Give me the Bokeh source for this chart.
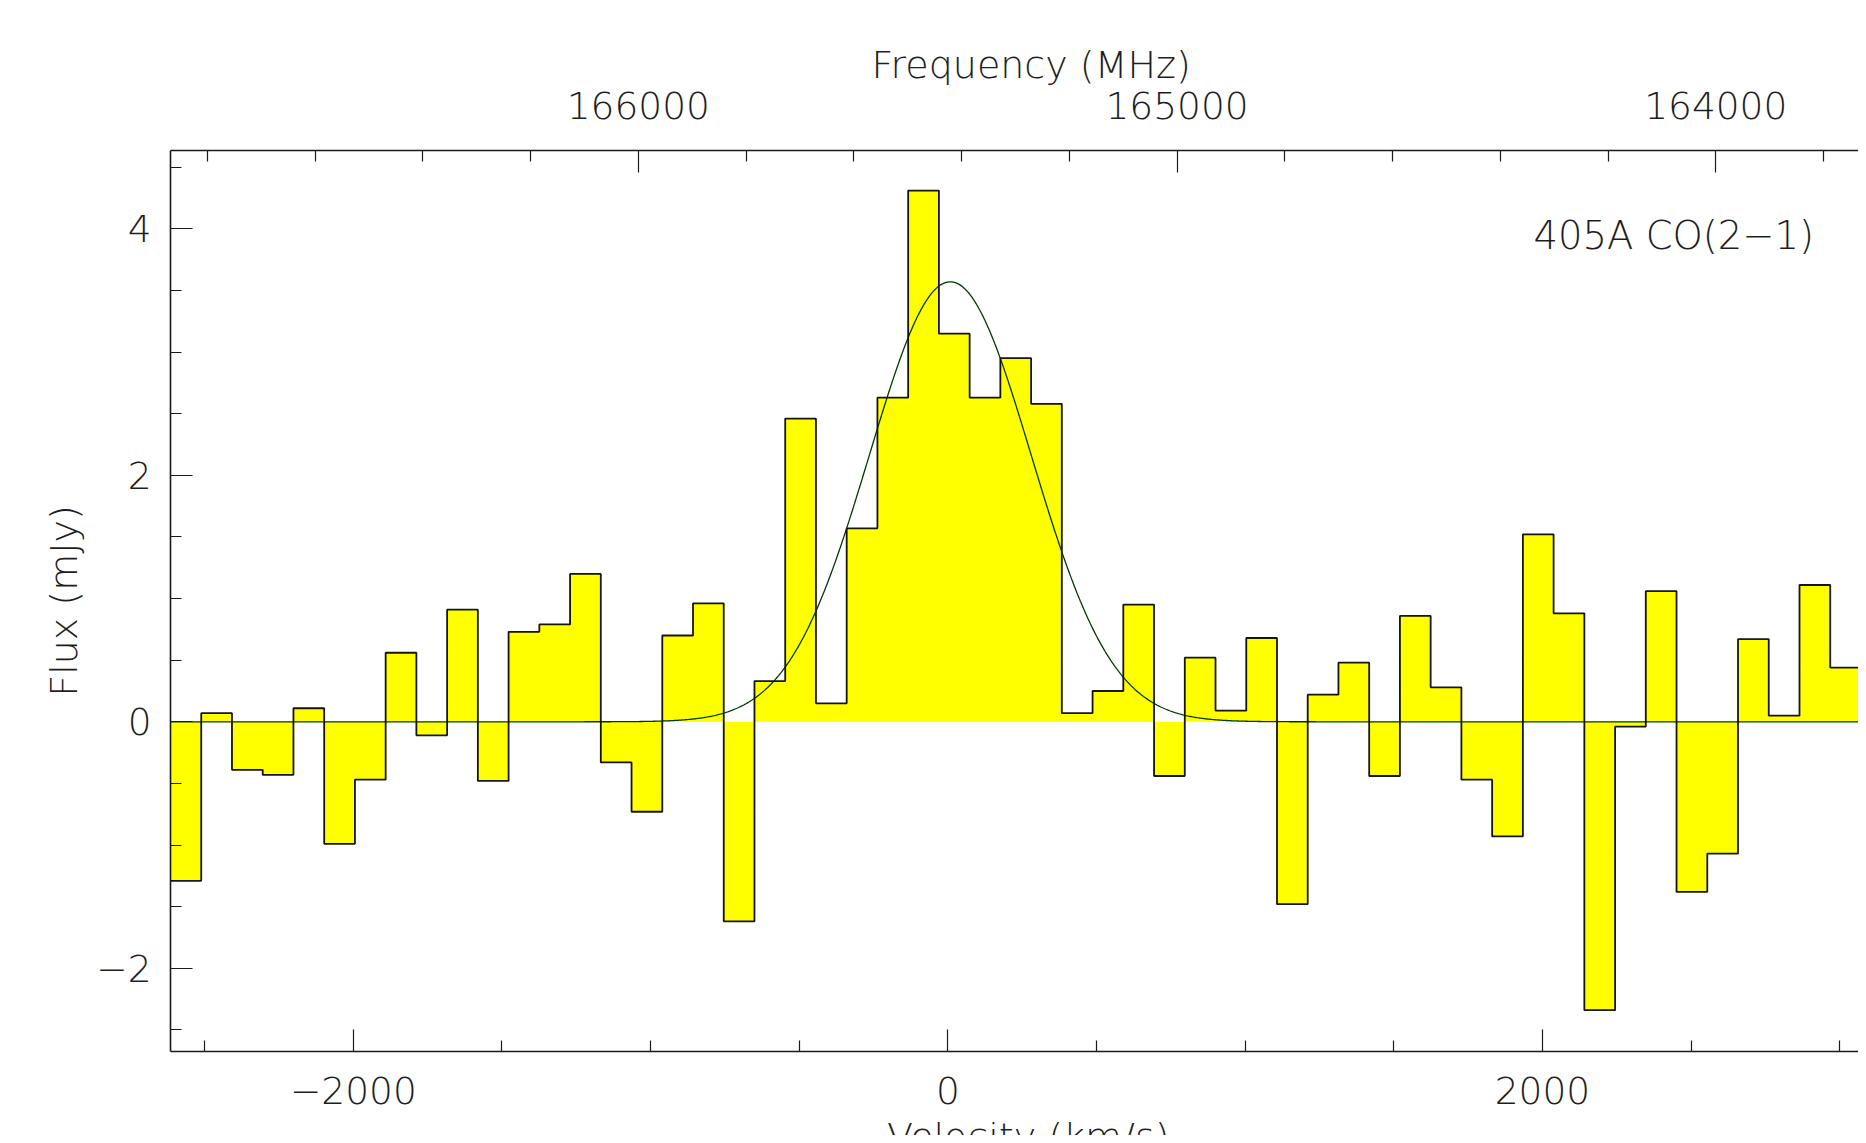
import subprocess
import numpy as np
from bokeh.plotting import figure
from bokeh.models import Range1d, LinearAxis, FixedTicker, Label
from bokeh.embed import file_html
from bokeh.resources import INLINE

# ---------------- data ----------------
# velocity channel centres (km/s)
velocity = [-2563.4, -2460.0, -2356.6, -2253.2, -2149.8, -2046.4, -1943.0, -1839.7,
            -1736.3, -1632.9, -1529.5, -1426.1, -1322.7, -1219.3, -1115.9, -1012.5,
            -909.1, -805.8, -702.4, -599.0, -495.6, -392.2, -288.8, -185.4,
            -82.0, 21.4, 124.8, 228.1, 331.5, 434.9, 538.3, 641.7,
            745.1, 848.5, 951.9, 1055.3, 1158.7, 1262.0, 1365.4, 1468.8,
            1572.2, 1675.6, 1779.0, 1882.4, 1985.8, 2089.2, 2192.6, 2295.9,
            2399.3, 2502.7, 2606.1, 2709.5, 2812.9, 2916.3, 3019.7, 3123.1]
# flux density per channel (mJy)
flux = [-1.29, 0.07, -0.39, -0.43, 0.11, -0.99, -0.47, 0.56,
        -0.11, 0.91, -0.48, 0.73, 0.79, 1.20, -0.33, -0.73,
        0.70, 0.96, -1.62, 0.33, 2.46, 0.15, 1.57, 2.63,
        4.31, 3.15, 2.63, 2.95, 2.58, 0.07, 0.25, 0.95,
        -0.44, 0.52, 0.09, 0.68, -1.48, 0.22, 0.48, -0.44,
        0.86, 0.28, -0.47, -0.93, 1.52, 0.88, -2.34, -0.04,
        1.06, -1.38, -1.07, 0.67, 0.05, 1.11, 0.44, -0.59]

# Gaussian fit parameters
gauss_amp = 3.57      # mJy
gauss_center = 8.0    # km/s
gauss_sigma = 272.0   # km/s

# observed line frequency at v = 0 (MHz) and speed of light (km/s)
f_obs = 165425.3
c_kms = 299792.458

vel_major = [-2000, 0, 2000]
vel_labels = {-2000: "\u22122000", 0: "0", 2000: "2000"}
vel_minor = [-2500, -1500, -1000, -500, 500, 1000, 1500, 2500, 3000]
flux_major = [-2, 0, 2, 4]
flux_labels = {-2: "\u22122", 0: "0", 2: "2", 4: "4"}
flux_minor = [-2.5, -1.5, -1, -0.5, 0.5, 1, 1.5, 2.5, 3, 3.5, 4.5]
freq_major = [164000, 165000, 166000]
freq_labels = {164000: "164000", 165000: "165000", 166000: "166000"}
freq_minor = [163800, 164200, 164400, 164600, 164800, 165200, 165400,
              165600, 165800, 166200, 166400, 166600, 166800]

title_text = "405A CO(2\u22121)"
xlabel_text = "Velocity (km/s)"
ylabel_text = "Flux (mJy)"
toplabel_text = "Frequency (MHz)"


# ---------------- font: prefer a light face (thin plotter-like strokes) ----------------
def pick_font():
    prefs = ["DejaVu Sans Light", "DejaVu Sans ExtraLight", "Lato Light",
             "Roboto Light", "Open Sans Light", "Noto Sans Light"]
    try:
        out = subprocess.run(["fc-list", ":", "family"], capture_output=True,
                             text=True, timeout=20).stdout
    except Exception:
        return "DejaVu Sans"
    fams = set()
    for line in out.splitlines():
        for f in line.split(","):
            fams.add(f.strip().lower())
    for name in prefs:
        if name.lower() in fams:
            return name
    return "DejaVu Sans"


FONT = pick_font()
TXT = "#1e1e1e"
FS = "38px"
FS_TICK = "37.5px"

# ---------------- derived geometry ----------------
v = np.array(velocity)
fl = np.array(flux)
w = v[1] - v[0]
edges = np.concatenate([[v[0] - w / 2], (v[:-1] + v[1:]) / 2, [v[-1] + w / 2]])
xs_step = np.repeat(edges, 2)[1:-1]
ys_step = np.repeat(fl, 2)

x_lo, x_hi = edges[0], 3063.1
y_lo, y_hi = -2.675, 4.635


def v2f(vv):
    return f_obs * (1.0 - vv / c_kms)


p = figure(width=1858, height=1135, output_backend="svg", toolbar_location=None,
           x_range=Range1d(x_lo, x_hi), y_range=Range1d(y_lo, y_hi),
           min_border_left=170, min_border_right=0, min_border_top=150,
           min_border_bottom=84)
p.extra_x_ranges = {"freq": Range1d(v2f(x_lo), v2f(x_hi))}

p.grid.visible = False
p.background_fill_color = "white"
p.border_fill_color = "white"
# the frame continues past the right page edge in the original: no right border
p.outline_line_color = None

# yellow filled histogram
p.varea(x=xs_step, y1=np.zeros_like(ys_step), y2=ys_step, fill_color="#ffff00")

# Gaussian fit
gx = np.linspace(x_lo, x_hi, 1500)
gy = gauss_amp * np.exp(-0.5 * ((gx - gauss_center) / gauss_sigma) ** 2)
p.line(gx, gy, line_color="#003a00", line_width=1.3)

# step outline
p.line(xs_step, ys_step, line_color="#151515", line_width=1.8)


def style_axis(ax, standoff):
    ax.axis_line_color = "#1a1a1a"
    ax.axis_line_width = 1.6
    ax.major_tick_in = 22
    ax.major_tick_out = 0
    ax.minor_tick_in = 11
    ax.minor_tick_out = 0
    ax.major_tick_line_color = "#1a1a1a"
    ax.minor_tick_line_color = "#1a1a1a"
    ax.major_tick_line_width = 1.2
    ax.minor_tick_line_width = 1.2
    ax.major_label_text_font = FONT
    ax.major_label_text_font_size = FS_TICK
    ax.major_label_text_color = TXT
    ax.major_label_standoff = standoff
    ax.axis_label_text_font = FONT
    ax.axis_label_text_font_size = FS
    ax.axis_label_text_font_style = "normal"
    ax.axis_label_text_color = TXT


xa = p.xaxis[0]
xa.ticker = FixedTicker(ticks=vel_major, minor_ticks=vel_minor)
xa.major_label_overrides = vel_labels
style_axis(xa, 25)

ya = p.yaxis[0]
ya.ticker = FixedTicker(ticks=flux_major, minor_ticks=flux_minor)
ya.major_label_overrides = flux_labels
ya.axis_label = ylabel_text
ya.axis_label_standoff = 7
ya.major_label_orientation = "horizontal"
style_axis(ya, 19)

top = LinearAxis(x_range_name="freq",
                 ticker=FixedTicker(ticks=freq_major, minor_ticks=freq_minor))
top.major_label_overrides = freq_labels
style_axis(top, 32)
p.add_layout(top, "above")

# axis titles as labels in the (roomy) top side panel, so they are not clipped
# to the data frame; the velocity title sits partly below the page edge, as in
# the original
p.add_layout(Label(x=279.9, y=5.511, text=toplabel_text, text_align="center",
                   text_baseline="top", text_font=FONT, text_font_size=FS,
                   text_color=TXT), "above")
p.add_layout(Label(x=270.5, y=-3.194, text=xlabel_text, text_align="center",
                   text_baseline="top", text_font=FONT, text_font_size=FS,
                   text_color=TXT), "above")

# line identification
p.add_layout(Label(x=2442.0, y=3.945, text=title_text, text_align="center",
                   text_baseline="alphabetic", text_font=FONT, text_font_size="38.5px",
                   text_color=TXT))

open("out.html", "w").write(file_html(p, INLINE))
